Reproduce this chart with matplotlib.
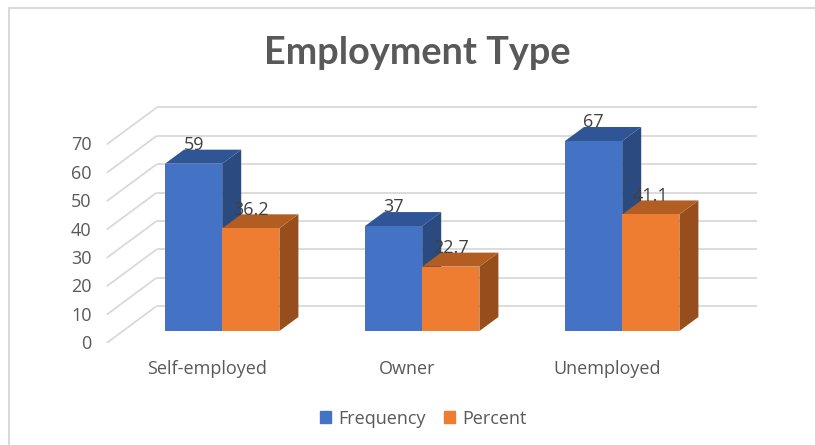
import matplotlib
matplotlib.use("Agg")
import matplotlib.pyplot as plt
from matplotlib.lines import Line2D
from matplotlib.patches import Patch

categories = ["Self-employed", "Owner", "Unemployed"]
frequency = [59, 37, 67]
percent = [36.2, 22.7, 41.1]
percent_labels = ["36.2", "22.7", "41.1"]
y_ticks = [0, 10, 20, 30, 40, 50, 60, 70]

W, H = 815, 445
PX_X = 200.0      # pixels per category
PX_Y = 2.836      # pixels per value unit
X0, Y0 = 222.2, 331.0   # pixel of category 0 / value 0 on the bars' front plane
L, R, T, B = 97, 770, 90, 343
BAR_W = 57.2 / PX_X
DX_BAR, DY_BAR = 19 / PX_X, 14 / PX_Y
DX_BACK, DY_BACK = 34.5 / PX_X, 25 / PX_Y
DX_FRONT, DY_FRONT = -15.5 / PX_X, -12 / PX_Y

BLUE = ("#4472C4", "#2F5597", "#2A4A80")
ORANGE = ("#EE7D31", "#B25D22", "#964F1C")
GRID = "#D9D9D9"
TXT = "#595959"

plt.rcParams["font.family"] = ["Open Sans", "DejaVu Sans"]
fig = plt.figure(figsize=(W / 100, H / 100), dpi=100, facecolor="white")
ax = fig.add_axes([L / W, 1 - B / H, (R - L) / W, (B - T) / H])
ax.set_xlim((L - X0) / PX_X, (R - X0) / PX_X)
ax.set_ylim((Y0 - B) / PX_Y, (Y0 - T) / PX_Y)
ax.patch.set_alpha(0)
for s in ax.spines.values():
    s.set_visible(False)

# frame of the chart area (top and left edges are the only visible ones)
fig.add_artist(Line2D([8.5 / W, 8.5 / W, 1], [0, 1 - 7.8 / H, 1 - 7.8 / H], transform=fig.transFigure,
                      color="#D9D9D9", lw=1.4, solid_joinstyle="miter"))

# grid: back wall and side wall
x_left = -0.5
x_right = len(categories) - 0.5
for v in y_ticks:
    ax.plot([x_left + DX_FRONT, x_left + DX_BACK], [v + DY_FRONT, v + DY_BACK],
            color=GRID, lw=1.3, zorder=1, solid_capstyle="butt")
    ax.plot([x_left + DX_BACK, x_right + DX_BACK], [v + DY_BACK, v + DY_BACK],
            color=GRID, lw=1.3, zorder=1, solid_capstyle="butt")


def bar3d(x, v, colors, z):
    ax.fill([x, x + BAR_W, x + BAR_W, x], [0, 0, v, v], color=colors[0], lw=0, zorder=z + 0.2)
    ax.fill([x, x + BAR_W, x + BAR_W + DX_BAR, x + DX_BAR],
            [v, v, v + DY_BAR, v + DY_BAR], color=colors[1], lw=0, zorder=z + 0.1)
    ax.fill([x + BAR_W, x + BAR_W + DX_BAR, x + BAR_W + DX_BAR, x + BAR_W],
            [0, DY_BAR, v + DY_BAR, v], color=colors[2], lw=0, zorder=z)


for i in range(len(categories)):
    bar3d(i - BAR_W, frequency[i], BLUE, 2)
    bar3d(i, percent[i], ORANGE, 3)
    ax.annotate(str(frequency[i]), (i - BAR_W / 2, frequency[i]), xytext=(0, 13.5),
                textcoords="offset points", ha="center", va="center",
                fontsize=13, color="#404040", zorder=6)
    ax.annotate(percent_labels[i], (i + BAR_W / 2, percent[i]), xytext=(0, 13.5),
                textcoords="offset points", ha="center", va="center",
                fontsize=13, color="#404040", zorder=6)

ax.set_yticks([v + DY_FRONT + 1 / PX_Y for v in y_ticks], [str(v) for v in y_ticks])
ax.set_xticks([i + DX_FRONT for i in range(len(categories))], categories)
ax.tick_params(axis="both", length=0, labelsize=13, labelcolor=TXT)
ax.tick_params(axis="y", pad=4)
ax.tick_params(axis="x", pad=12)

fig.text(417 / W, 1 - 53 / H, "Employment Type", ha="center", va="center",
         fontsize=27.3, fontweight="bold", color=TXT, family=["Lato", "DejaVu Sans"])

handles = [Patch(color=BLUE[0], label="Frequency"), Patch(color=ORANGE[0], label="Percent")]
fig.legend(handles=handles, loc="center", bbox_to_anchor=(423 / W, 1 - 418.5 / H), ncol=2, frameon=False,
           fontsize=13, labelcolor=TXT, handlelength=0.62, handleheight=0.62,
           handletextpad=0.4, columnspacing=1.0)

fig.savefig("out.png", dpi=100)
